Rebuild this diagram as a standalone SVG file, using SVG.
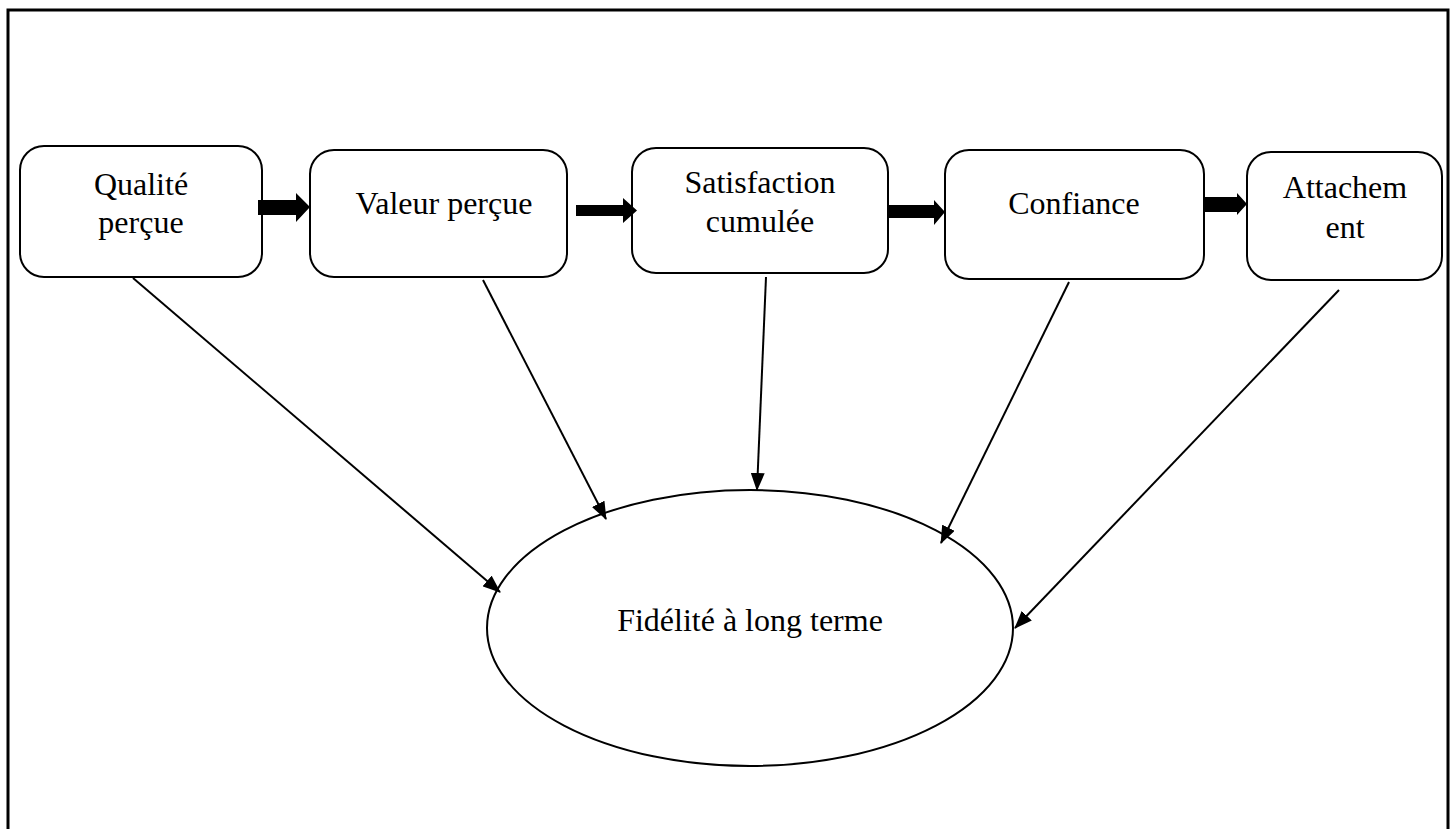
<svg xmlns="http://www.w3.org/2000/svg" width="1454" height="829" viewBox="0 0 1454 829">
  <style>
    .box { fill: #ffffff; stroke: #000000; stroke-width: 2; }
    .lbl { font-family: "Liberation Serif", "Times New Roman", serif; font-size: 32px; fill: #000000; text-anchor: middle; }
    .link { stroke: #000000; stroke-width: 2; fill: none; marker-end: url(#tip); }
    .fat { fill: #000000; stroke: none; }
  </style>
  <defs>
    <marker id="tip" viewBox="0 0 18 14" refX="17" refY="7" markerWidth="18" markerHeight="14" markerUnits="userSpaceOnUse" orient="auto">
      <path d="M0,0 L18,7 L0,14 Z" fill="#000000"/>
    </marker>
  </defs>
  <rect width="1454" height="829" fill="#ffffff"/>
  <!-- outer frame (open at the bottom) -->
  <path d="M8,835 L8,10 L1448,10 L1448,835" fill="none" stroke="#000000" stroke-width="3"/>

  <g id="n-qualite">
    <rect class="box" x="20" y="146" width="242" height="131" rx="24"/>
    <text class="lbl" x="141" y="195">Qualité</text>
    <text class="lbl" x="141" y="233">perçue</text>
  </g>
  <g id="n-valeur">
    <rect class="box" x="310" y="150" width="257" height="127" rx="24"/>
    <text class="lbl" x="444" y="214">Valeur perçue</text>
  </g>
  <g id="n-satisfaction">
    <rect class="box" x="632" y="148" width="256" height="125" rx="24"/>
    <text class="lbl" x="760" y="193">Satisfaction</text>
    <text class="lbl" x="760" y="232">cumulée</text>
  </g>
  <g id="n-confiance">
    <rect class="box" x="945" y="150" width="259" height="129" rx="24"/>
    <text class="lbl" x="1074" y="214">Confiance</text>
  </g>
  <g id="n-attachement">
    <rect class="box" x="1247" y="152" width="195" height="128" rx="24"/>
    <text class="lbl" x="1345" y="198">Attachem</text>
    <text class="lbl" x="1345" y="238">ent</text>
  </g>
  <g id="n-fidelite">
    <ellipse class="box" cx="750" cy="628" rx="263" ry="138"/>
    <text class="lbl" x="750" y="631">Fidélité à long terme</text>
  </g>

  <g id="connectors">
    <!-- block arrows along the chain -->
    <path class="fat" d="M258,200 L296,200 L296,193 L310,207 L296,222 L296,215 L258,215 Z"/>
    <path class="fat" d="M576,205 L623,205 L623,198 L637,210.5 L623,223 L623,216 L576,216 Z"/>
    <path class="fat" d="M888,205 L934,205 L934,200 L945,212 L934,225 L934,218 L888,218 Z"/>
    <path class="fat" d="M1204,197 L1237,197 L1237,193 L1247,204 L1237,215 L1237,212 L1204,212 Z"/>
    <!-- links into the ellipse -->
    <line class="link" x1="133" y1="278" x2="500" y2="592"/>
    <line class="link" x1="483" y1="280" x2="606" y2="519"/>
    <line class="link" x1="766" y1="277" x2="757" y2="490"/>
    <line class="link" x1="1069" y1="282" x2="941" y2="543"/>
    <line class="link" x1="1339" y1="290" x2="1015" y2="628"/>
  </g>
</svg>
